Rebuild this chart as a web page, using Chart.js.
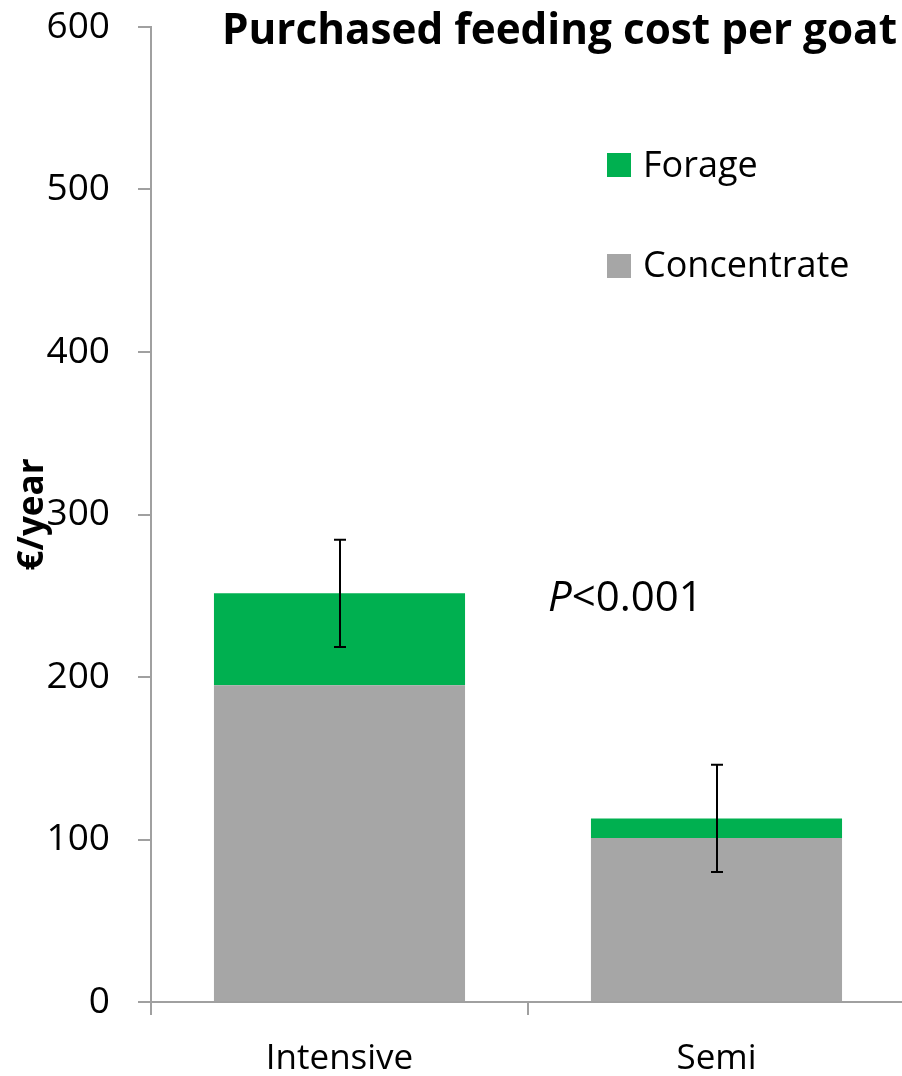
<!DOCTYPE html>
<html><head><meta charset="utf-8">
<script src="https://cdn.jsdelivr.net/npm/chart.js@4"></script>
<style>
html,body{margin:0;padding:0;overflow:hidden;background:#fff;width:902px;height:1076px}
#wrap{position:absolute;left:0;top:0;width:910px;height:1076px}
</style></head>
<body><div id="wrap"><canvas id="c"></canvas></div>
<script>
const categories = ['Intensive', 'Semi'];
const concentrate = [195, 101];
const forage = [56.5, 12];
const errorMargin = [33, 33];
const yTicks = [0, 100, 200, 300, 400, 500, 600];
const titleText = 'Purchased feeding cost per goat';
const yAxisTitle = '€/year';
const pItalic = 'P';
const pRest = '<0.001';

const FONT = "'Open Sans', 'Noto Sans', sans-serif";
const AXIS = '#A0A0A0';

const errorBars = {
  id: 'errorBars',
  afterDatasetsDraw(chart) {
    const ctx = chart.ctx, y = chart.scales.y;
    const meta = chart.getDatasetMeta(1);
    ctx.save();
    ctx.strokeStyle = '#000';
    ctx.lineWidth = 2;
    meta.data.forEach((bar, i) => {
      const total = concentrate[i] + forage[i];
      const x = Math.round(bar.x);
      const yt = y.getPixelForValue(total + errorMargin[i]);
      const yb = y.getPixelForValue(total - errorMargin[i]);
      ctx.beginPath();
      ctx.moveTo(x, yt); ctx.lineTo(x, yb);
      ctx.moveTo(x - 6, yt); ctx.lineTo(x + 6, yt);
      ctx.moveTo(x - 6, yb); ctx.lineTo(x + 6, yb);
      ctx.stroke();
    });
    ctx.restore();
  }
};

const annotations = {
  id: 'annotations',
  afterDraw(chart) {
    const ctx = chart.ctx;
    ctx.save();
    ctx.fillStyle = '#000';
    ctx.font = `bold 43px ${FONT}`;
    ctx.textAlign = 'right';
    ctx.textBaseline = 'alphabetic';
    ctx.fillText(titleText, 897, 44, 675);
    ctx.textAlign = 'left';
    ctx.font = `36px ${FONT}`;
    const ds = chart.data.datasets.slice().reverse();
    const rows = [{sq: 153, base: 177}, {sq: 254, base: 277}];
    ds.forEach((d, i) => {
      ctx.fillStyle = d.backgroundColor;
      ctx.fillRect(607, rows[i].sq, 24, 24);
      ctx.fillStyle = '#000';
      ctx.fillText(d.label, 643, rows[i].base);
    });
    ctx.font = `italic 42px ${FONT}`;
    const x0 = 548, base = 611;
    ctx.fillText(pItalic, x0, base);
    const w = ctx.measureText(pItalic).width;
    ctx.font = `42px ${FONT}`;
    ctx.fillText(pRest, x0 + w, base);
    ctx.restore();
  }
};

new Chart(document.getElementById('c'), {
  type: 'bar',
  data: {
    labels: categories,
    datasets: [
      { label: 'Concentrate', data: concentrate, backgroundColor: '#A6A6A6' },
      { label: 'Forage', data: forage, backgroundColor: '#00B050' }
    ]
  },
  options: {
    responsive: true,
    maintainAspectRatio: false,
    animation: false,
    devicePixelRatio: 1,
    layout: { padding: { top: 27, right: 5, left: 0, bottom: 0 } },
    datasets: { bar: { categoryPercentage: 1, barPercentage: 0.666 } },
    plugins: { legend: { display: false }, tooltip: { enabled: false }, title: { display: false } },
    scales: {
      x: {
        stacked: true,
        grid: { drawOnChartArea: false, drawTicks: true, tickLength: 13, color: AXIS, lineWidth: 2, offset: true },
        border: { color: AXIS, width: 2 },
        ticks: { color: '#000', font: { family: FONT, size: 35 }, padding: 23 },
        afterFit(s) { s.height = 74; s.paddingLeft = 0; s.paddingRight = 0; }
      },
      y: {
        stacked: true,
        min: 0, max: 600,
        afterBuildTicks(s) { s.ticks = yTicks.map(v => ({ value: v })); },
        grid: { drawOnChartArea: false, drawTicks: true, tickLength: 13, color: AXIS, lineWidth: 2 },
        border: { color: AXIS, width: 2 },
        ticks: { color: '#000', font: { family: FONT, size: 37 }, padding: 28 },
        title: { display: true, text: yAxisTitle, color: '#000', font: { family: FONT, size: 35, weight: 'bold' }, padding: { top: 12, bottom: 0 } },
        afterFit(s) { s.width = 151; s.paddingTop = 0; s.paddingBottom = 0; }
      }
    }
  },
  plugins: [errorBars, annotations]
});
</script>
</body></html>
